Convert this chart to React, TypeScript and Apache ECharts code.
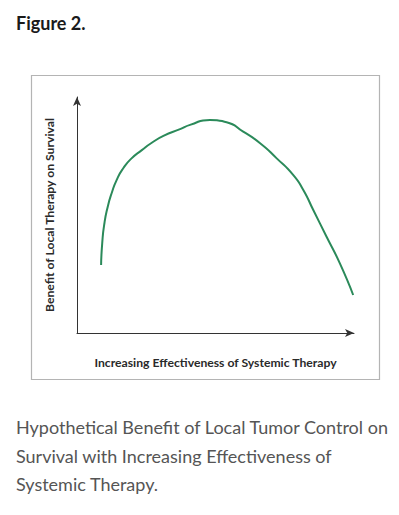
import React, { useEffect, useRef } from "react";
import * as echarts from "echarts";

const curveX = [8.7, 9.1, 9.9, 11.1, 12.5, 14.3, 16.7, 19.7, 23.4, 27.0, 31.2, 37.2, 40.8, 48.0, 54.0, 60.0, 66.1, 72.1, 78.1, 81.7, 85.3, 90.1, 94.9, 99.7];
const curveY = [28.8, 38.0, 46.5, 53.5, 59.2, 64.8, 69.8, 74.0, 77.5, 80.6, 83.5, 86.4, 88.2, 90.3, 89.3, 85.3, 80.4, 74.0, 66.9, 60.6, 52.1, 40.8, 29.5, 16.1];

const titleText = "Figure 2.";
const xAxisName = "Increasing Effectiveness of Systemic Therapy";
const yAxisName = "Benefit of Local Therapy on Survival";
const captionLines = [
  "Hypothetical Benefit of Local Tumor Control on",
  "Survival with Increasing Effectiveness of",
  "Systemic Therapy.",
];

export default function App() {
  const ref = useRef<HTMLDivElement>(null);
  useEffect(() => {
    if (!ref.current) return;
    const chart = echarts.init(ref.current, undefined, { renderer: "svg" });
    const data = curveX.map((x, i) => [x, curveY[i]]);
    const axisLineStyle = { color: "#333", width: 1 };
    chart.setOption({
      animation: false,
      backgroundColor: "#fff",
      grid: { left: 77, top: 97, width: 277, height: 236 },
      xAxis: {
        type: "value",
        min: 0,
        max: 100,
        name: xAxisName,
        nameLocation: "middle",
        nameGap: 23,
        nameTextStyle: { fontFamily: "Lato", fontWeight: "bold", fontSize: 12.2, color: "#2a2a2a" },
        axisLine: { show: true, lineStyle: axisLineStyle, symbol: ["none", "arrow"], symbolSize: [6, 9] },
        axisTick: { show: false },
        axisLabel: { show: false },
        splitLine: { show: false },
      },
      yAxis: {
        type: "value",
        min: 0,
        max: 100,
        name: yAxisName,
        nameLocation: "middle",
        nameGap: 22,
        nameRotate: 90,
        nameTextStyle: { fontFamily: "Lato", fontWeight: "bold", fontSize: 12.2, color: "#2a2a2a" },
        axisLine: { show: true, lineStyle: axisLineStyle, symbol: ["none", "arrow"], symbolSize: [6, 9] },
        axisTick: { show: false },
        axisLabel: { show: false },
        splitLine: { show: false },
      },
      series: [
        {
          type: "line",
          data,
          smooth: 0.6,
          showSymbol: false,
          lineStyle: { color: "#2b8a5a", width: 2 },
        },
      ],
      graphic: [
        {
          type: "rect",
          shape: { x: 31.5, y: 75.5, width: 348, height: 304 },
          style: { fill: "none", stroke: "#b4b4b4", lineWidth: 1.2 },
          z: -1,
        },
        {
          type: "text",
          left: 16,
          top: 14,
          style: { text: titleText, fontFamily: "Lato", fontWeight: "bold", fontSize: 18, fill: "#1a1a1a" },
        },
        ...captionLines.map((t, i) => ({
          type: "text",
          left: 16,
          top: 418 + i * 28.5,
          style: { text: t, fontFamily: "Lato", fontWeight: 400, fontSize: 18, fill: "#555555" },
        })),
      ],
    });
    return () => chart.dispose();
  }, []);
  return (
    <div
      ref={ref}
      style={{ position: "fixed", left: 0, top: 0, width: 399, height: 515 }}
    />
  );
}
